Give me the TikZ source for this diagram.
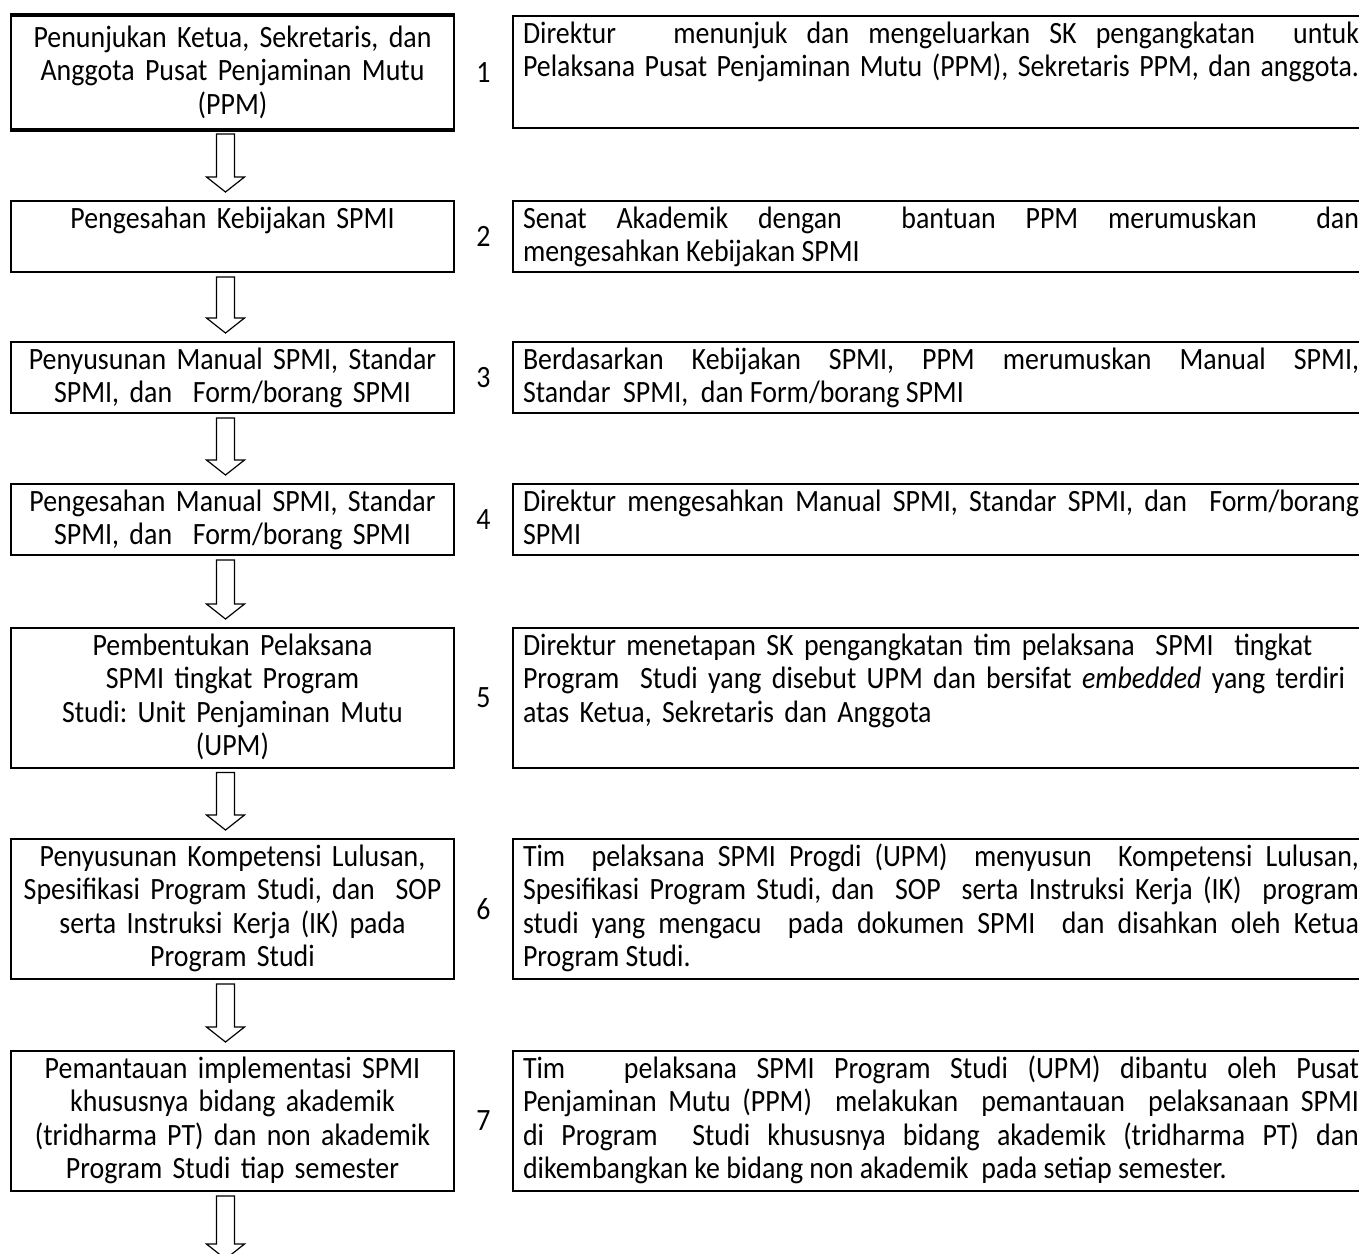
\documentclass[tikz,border=0pt]{standalone}
\usepackage{fontspec}
\setmainfont{Carlito}[FakeStretch=0.9]
\usepackage{tikz}
\usetikzlibrary{calc}
\frenchspacing
\tikzset{>=latex}
\tikzset{
  lbox/.style = {rectangle, draw=black, line width=1pt, anchor=north west, text width=211.5pt, align=center, inner xsep=5pt, inner ysep=1.5pt, text height=12pt, font=\fontsize{15.5pt}{16.75pt}\selectfont},
  rbox/.style = {rectangle, draw=black, line width=1pt, anchor=north west, text width=418pt, align=justify, inner xsep=5pt, inner ysep=1.5pt, text height=12pt, font=\fontsize{15.5pt}{16.75pt}\selectfont},
  num/.style = {font=\fontsize{15.5pt}{16.75pt}\selectfont},
  blk/.style = {draw=black, line width=0.6pt, fill=white}
}
\newcommand{\blockarrow}[2]{%
  \draw [blk] ($#1+(-16,4)$) -- ($#1+(2,4)$) -- ($#2+(2,-23)$) -- ($#2+(12,-23)$) -- ($#2+(-7,-8)$) -- ($#2+(-26,-23)$) -- ($#2+(-16,-23)$) -- cycle;}

\begin{document}
\begin{tikzpicture}[x=0.5pt, y=-0.5pt]
\useasboundingbox (0,0) rectangle (1359,1253);
\node [lbox, text height=14pt, text depth=39.5pt] (S1) at (10,15) {Penunjukan Ketua, Sekretaris, dan\\ Anggota Pusat Penjaminan Mutu\\ (PPM)};
\draw [line width=1.8pt] (S1.north west) -- (S1.north east);
\draw [line width=2pt] (S1.south west) -- (S1.south east);
\node [lbox, text depth=20.5pt] (S2) at (10,200) {Pengesahan Kebijakan SPMI};
\node [lbox, text depth=20.5pt] (S3) at (10,341) {Penyusunan Manual SPMI, Standar\\ SPMI, dan\ \ Form/borang SPMI};
\node [lbox, text depth=20.5pt] (S4) at (10,483) {Pengesahan Manual SPMI, Standar\\ SPMI, dan\ \ Form/borang SPMI};
\node [lbox, text depth=54.75pt] (S5) at (10,627) {Pembentukan Pelaksana\\ SPMI tingkat Program\\ Studi: Unit Penjaminan Mutu\\ (UPM)};
\node [lbox, text depth=55pt] (S6) at (10,838) {Penyusunan Kompetensi Lulusan,\\ Spesifikasi Program Studi, dan\ \ SOP\\ serta Instruksi Kerja (IK) pada\\ Program Studi};
\node [lbox, text depth=55pt] (S7) at (10,1050) {Pemantauan implementasi SPMI\\ khususnya bidang akademik\\ (tridharma PT) dan non akademik\\ Program Studi tiap semester};

\node [rbox, text depth=41pt] (D1) at (512,15) {Direktur\ \ \ menunjuk dan mengeluarkan SK pengangkatan\ \ untuk\linebreak \makebox[418pt][s]{Pelaksana Pusat Penjaminan Mutu (PPM), Sekretaris PPM, dan anggota.}};
\node [rbox, text depth=20.5pt] (D2) at (512,200) {Senat Akademik dengan\ \ bantuan PPM merumuskan\ \ dan\linebreak mengesahkan Kebijakan SPMI};
\node [rbox, text depth=20.5pt] (D3) at (512,341) {Berdasarkan Kebijakan SPMI, PPM merumuskan Manual SPMI,\linebreak Standar\ \ SPMI,\ \ dan Form/borang SPMI};
\node [rbox, text depth=20.5pt] (D4) at (512,483) {Direktur mengesahkan Manual SPMI, Standar SPMI, dan\ \ Form/borang\linebreak SPMI};
\node [rbox, align=left, text depth=54.75pt] (D5) at (512,627) {Direktur menetapan SK pengangkatan tim pelaksana\ \ SPMI\ \ tingkat\\ Program\ \ Studi yang disebut UPM dan bersifat \textit{embedded} yang terdiri\\ atas Ketua, Sekretaris dan Anggota};
\node [rbox, text depth=55pt] (D6) at (512,838) {Tim\ \ pelaksana SPMI Progdi (UPM)\ \ menyusun\ \ Kompetensi Lulusan,\linebreak Spesifikasi Program Studi, dan\ \ SOP\ \ serta Instruksi Kerja (IK)\ \ program\linebreak studi yang mengacu\ \ pada dokumen SPMI\ \ dan disahkan oleh Ketua\linebreak Program Studi.};
\node [rbox, text depth=55pt] (D7) at (512,1050) {Tim\ \ \ pelaksana SPMI Program Studi (UPM) dibantu oleh Pusat\linebreak Penjaminan Mutu (PPM)\ \ melakukan\ \ pemantauan\ \ pelaksanaan SPMI\linebreak di Program\ \ Studi khususnya bidang akademik (tridharma PT) dan\linebreak dikembangkan ke bidang non akademik\ \ pada setiap semester.};

\node [num] (N1) at ($(S1.east)!0.5!(D1.west)$) {1};
\node [num] (N2) at ($(S2.east)!0.5!(D2.west)$) {2};
\node [num] (N3) at ($(S3.east)!0.5!(D3.west)$) {3};
\node [num] (N4) at ($(S4.east)!0.5!(D4.west)$) {4};
\node [num] (N5) at ($(S5.east)!0.5!(D5.west)$) {5};
\node [num] (N6) at ($(S6.east)!0.5!(D6.west)$) {6};
\node [num] (N7) at ($(S7.east)!0.5!(D7.west)$) {7};

\coordinate (F) at ($(S7.south)+(0,75)$);
\blockarrow{(S1.south)}{(S2.north)}
\blockarrow{(S2.south)}{(S3.north)}
\blockarrow{(S3.south)}{(S4.north)}
\blockarrow{(S4.south)}{(S5.north)}
\blockarrow{(S5.south)}{(S6.north)}
\blockarrow{(S6.south)}{(S7.north)}
\blockarrow{(S7.south)}{(F)}
\end{tikzpicture}
\end{document}
